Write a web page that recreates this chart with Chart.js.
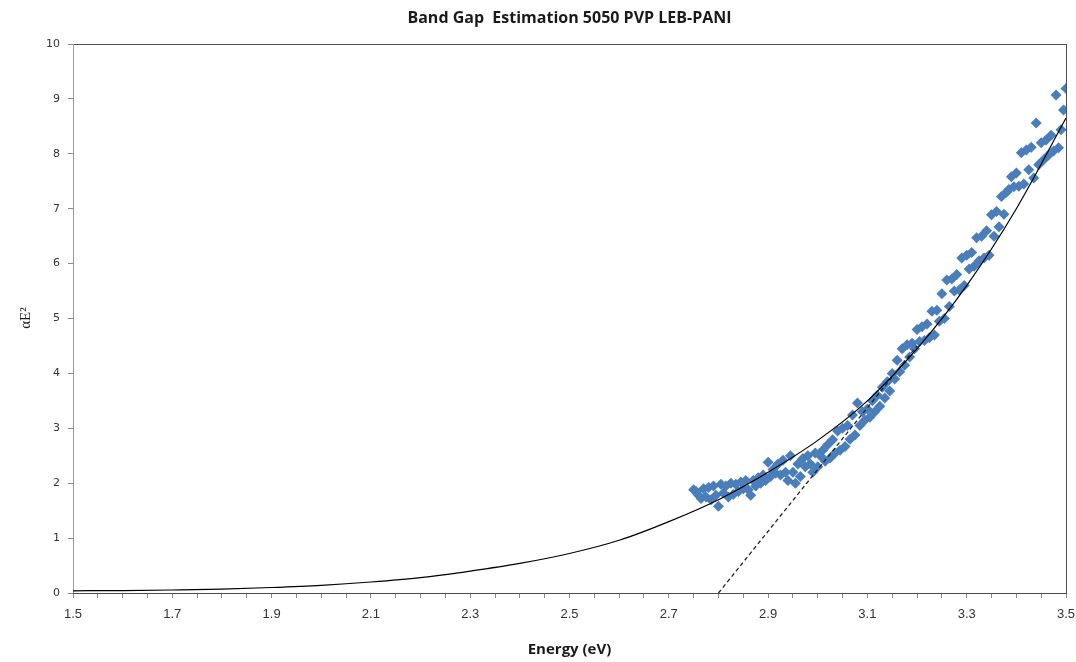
<!DOCTYPE html>
<html>
<head>
<meta charset="utf-8">
<title>Band Gap Estimation</title>
<script src="https://cdn.jsdelivr.net/npm/chart.js@4/dist/chart.umd.min.js"></script>
<style>
  html, body { margin: 0; padding: 0; background: #fff; }
  canvas { display: block; }
</style>
</head>
<body>
<canvas id="chartBandGap" width="1076" height="662"></canvas>
<script>
// measured energies (eV)
const energy = [
  2.750, 2.755, 2.760, 2.765, 2.770, 2.775, 2.780, 2.785, 2.790, 2.795,
  2.800, 2.805, 2.810, 2.815, 2.820, 2.825, 2.830, 2.835, 2.840, 2.845,
  2.850, 2.855, 2.860, 2.865, 2.870, 2.875, 2.880, 2.885, 2.890, 2.895,
  2.900, 2.905, 2.910, 2.915, 2.920, 2.925, 2.930, 2.935, 2.940, 2.945,
  2.950, 2.955, 2.960, 2.965, 2.970, 2.975, 2.980, 2.985, 2.990, 2.995,
  3.000, 3.005, 3.010, 3.015, 3.020, 3.025, 3.030, 3.035, 3.040, 3.045,
  3.050, 3.055, 3.060, 3.065, 3.070, 3.075, 3.080, 3.085, 3.090, 3.095,
  3.100, 3.105, 3.110, 3.115, 3.120, 3.125, 3.130, 3.135, 3.140, 3.145,
  3.150, 3.155, 3.160, 3.165, 3.170, 3.175, 3.180, 3.185, 3.190, 3.195,
  3.200, 3.205, 3.210, 3.215, 3.220, 3.225, 3.230, 3.235, 3.240, 3.245,
  3.250, 3.255, 3.260, 3.265, 3.270, 3.275, 3.280, 3.285, 3.290, 3.295,
  3.300, 3.305, 3.310, 3.315, 3.320, 3.325, 3.330, 3.335, 3.340, 3.345,
  3.350, 3.355, 3.360, 3.365, 3.370, 3.375, 3.380, 3.385, 3.390, 3.395,
  3.400, 3.405, 3.410, 3.415, 3.420, 3.425, 3.430, 3.435, 3.440, 3.445,
  3.450, 3.455, 3.460, 3.465, 3.470, 3.475, 3.480, 3.485, 3.490, 3.495,
  3.500
]

// (alpha E)^2 for each energy
const alphaE2 = [
  1.88, 1.85, 1.78, 1.72, 1.90, 1.75, 1.92, 1.70, 1.95, 1.78,
  1.58, 1.98, 1.82, 1.95, 1.75, 2.00, 1.80, 1.98, 1.85, 2.02,
  1.90, 2.05, 1.88, 1.78, 2.05, 1.95, 2.10, 2.00, 2.15, 2.05,
  2.38, 2.12, 2.25, 2.18, 2.35, 2.15, 2.42, 2.20, 2.05, 2.50,
  2.20, 2.00, 2.35, 2.12, 2.45, 2.30, 2.50, 2.35, 2.20, 2.55,
  2.30, 2.50, 2.60, 2.40, 2.70, 2.46, 2.79, 2.55, 2.95, 2.60,
  3.00, 2.67, 3.05, 2.80, 3.24, 2.88, 3.46, 3.05, 3.30, 3.15,
  3.35, 3.20, 3.50, 3.30, 3.60, 3.40, 3.75, 3.55, 3.85, 3.68,
  4.00, 3.90, 4.24, 4.03, 4.45, 4.15, 4.52, 4.30, 4.55, 4.45,
  4.80, 4.58, 4.85, 4.60, 4.90, 4.65, 5.13, 4.70, 5.15, 4.95,
  5.45, 5.00, 5.70, 5.22, 5.72, 5.50, 5.80, 5.52, 6.10, 5.60,
  6.15, 5.90, 6.20, 5.95, 6.47, 6.05, 6.50, 6.10, 6.60, 6.15,
  6.89, 6.50, 6.95, 6.67, 7.22, 6.90, 7.30, 7.35, 7.58, 7.40,
  7.65, 7.41, 8.02, 7.45, 8.07, 7.71, 8.12, 7.56, 8.56, 7.80,
  8.20, 7.89, 8.25, 7.98, 8.34, 8.05, 9.07, 8.11, 8.44, 8.80,
  9.19
]

// trend line, read at 0.1 eV steps
const fitEnergy = [1.5, 1.6, 1.7, 1.8, 1.9, 2.0, 2.1, 2.2, 2.3, 2.4, 2.5,
                   2.6, 2.7, 2.8, 2.9, 3.0, 3.1, 3.2, 3.3, 3.4, 3.5]
const fitValues = [0.04, 0.045, 0.055, 0.07, 0.1, 0.14, 0.2, 0.28, 0.4, 0.54, 0.72,
                   0.96, 1.3, 1.7, 2.2, 2.78, 3.5, 4.45, 5.6, 7.0, 8.65]

// tangent extrapolated to the energy axis
const tangentEnergy = [2.8, 3.2]
const tangentValues = [0, 4.5]

const xTicksMin = 1.5
const xTicksMax = 3.5
const yTicksMax = 10

const toPoints = (xs, ys) => xs.map((x, i) => ({ x: x, y: ys[i] }))

const canvas = document.getElementById('chartBandGap')
const context = canvas.getContext('2d')

// frame, title and axis titles
const marcoTitulos = {
    id: 'marcoTitulos',
    beforeDatasetsDraw(chart) {
        const { ctx, chartArea: a } = chart
        ctx.save()
        ctx.strokeStyle = '#4d4d4d'
        ctx.lineWidth = 1
        ctx.strokeRect(a.left + 0.5, a.top + 0.5, a.right - a.left, a.bottom - a.top)
        ctx.strokeStyle = '#9a9a9a'
        ctx.beginPath()
        ctx.moveTo(a.left + 0.5, a.top)
        ctx.lineTo(a.left + 0.5, a.bottom)
        ctx.stroke()
        ctx.restore()
    },
    afterDraw(chart) {
        const { ctx, chartArea: a } = chart
        const cx = (a.left + a.right) / 2
        ctx.save()
        ctx.fillStyle = '#1a1a1a'
        ctx.textAlign = 'center'
        ctx.textBaseline = 'middle'
        ctx.font = 'bold 16px "Liberation Sans Narrow", "Open Sans", sans-serif'
        ctx.fillText('Band Gap  Estimation 5050 PVP LEB-PANI', cx, 18)
        ctx.font = 'bold 15px "Liberation Sans Narrow", "Open Sans", sans-serif'
        ctx.fillText('Energy (eV)', cx, 650)
        ctx.translate(26, 318)
        ctx.rotate(-Math.PI / 2)
        ctx.font = '15px "Liberation Serif", "DejaVu Serif", serif'
        ctx.fillText('\u03b1E\u00b2', 0, 0)
        ctx.restore()
    }
}

const chartBandGap = new Chart(context, {
    type: 'scatter',
    data: {
        datasets: [
            {
                label: 'Datos',
                data: toPoints(energy, alphaE2),
                pointStyle: 'rectRot',
                pointRadius: 5.5,
                pointBorderWidth: 0,
                backgroundColor: '#4a7ebb',
                borderColor: '#4a7ebb',
                order: 3
            },
            {
                label: 'Ajuste',
                data: toPoints(fitEnergy, fitValues),
                showLine: true,
                cubicInterpolationMode: 'monotone',
                borderColor: '#000',
                borderWidth: 1.2,
                pointRadius: 0,
                order: 1
            },
            {
                label: 'Tangente',
                data: toPoints(tangentEnergy, tangentValues),
                showLine: true,
                borderColor: '#222',
                borderWidth: 1.3,
                borderDash: [4, 3],
                pointRadius: 0,
                order: 2
            }
        ]
    },
    options: {
        responsive: false,
        animation: false,
        devicePixelRatio: 1,
        layout: { padding: { top: 44, right: 0, left: 0, bottom: 0 } },
        plugins: {
            legend: { display: false },
            tooltip: { enabled: false }
        },
        scales: {
            x: {
                type: 'linear',
                min: xTicksMin,
                max: xTicksMax,
                border: { display: false },
                grid: {
                    drawOnChartArea: false,
                    drawTicks: true,
                    tickLength: 5,
                    color: '#8c8c8c'
                },
                ticks: {
                    stepSize: 0.05,
                    autoSkip: false,
                    maxRotation: 0,
                    padding: 9,
                    color: '#333',
                    font: { family: '"Liberation Sans Narrow", "Liberation Sans", sans-serif', size: 13 },
                    callback: (v, i) => (i % 4 === 0 ? Number(v).toFixed(1) : '')
                },
                afterFit: (s) => {
                    s.height = 69
                    s.paddingLeft = 0
                    s.paddingRight = 10
                }
            },
            y: {
                min: 0,
                max: yTicksMax,
                border: { display: false },
                grid: {
                    drawOnChartArea: false,
                    drawTicks: true,
                    tickLength: 5,
                    color: '#8c8c8c'
                },
                ticks: {
                    stepSize: 1,
                    padding: 8,
                    color: '#333',
                    font: { family: '"DejaVu Sans", Verdana, sans-serif', size: 11 }
                },
                afterFit: (s) => { s.width = 73 }
            }
        }
    },
    plugins: [marcoTitulos]
})
</script>
</body>
</html>
